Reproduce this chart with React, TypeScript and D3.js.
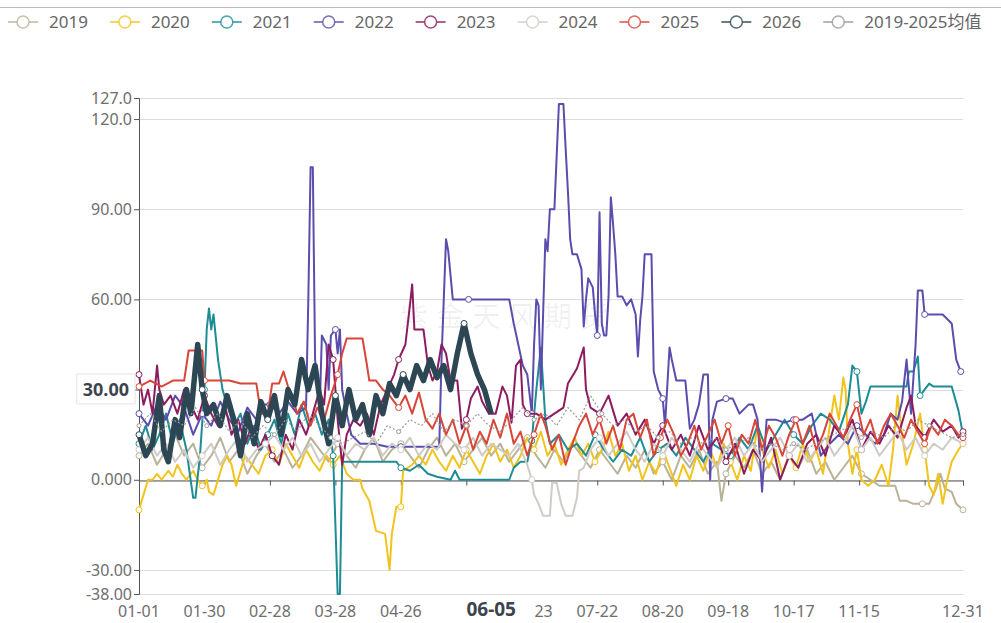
import * as d3 from 'd3';
import { useRef, useEffect } from 'react';

// category axis: every day of 2024 (leap year), labels every 29 days
const xLabels = ['01-01', '01-30', '02-28', '03-28', '04-26', '05-25', '06-23', '07-22', '08-20', '09-18', '10-17', '11-15', '12-14', '12-31'];
const xHiddenLabels = ['05-25', '12-14'];
const yTicks = [127, 120, 90, 60, 30, 0, -30, -38];
const yTickLabels = ['127.0', '120.0', '90.00', '60.00', '30.00', '0.000', '-30.00', '-38.00'];
const pointerX = '06-05';
const pointerY = 30;

const seriesNames = ['2019', '2020', '2021', '2022', '2023', '2024', '2025', '2026', '2019-2025均值'];
const seriesColors = ['#b9b299', '#f2c31b', '#1d8c95', '#5a4dad', '#8c1c5f', '#cfcbc6', '#d94537', '#2c4654', '#9a9a9a'];

// [day of year, value]
const s2019 = [[0,8],[4,12],[8,5],[12,10],[16,15],[20,8],[24,12],[28,4],[32,8],[36,14],[40,6],[44,10],[48,2],[52,8],[56,12],[60,6],[64,10],[68,4],[72,8],[76,14],[80,10],[84,6],[88,12],[92,8],[96,4],[100,10],[104,14],[108,6],[112,10],[116,12],[120,8],[124,4],[128,10],[132,14],[136,8],[140,12],[144,6],[148,10],[152,14],[156,8],[160,12],[164,6],[168,10],[172,14],[176,8],[180,4],[184,10],[188,6],[192,12],[196,8],[200,4],[204,10],[208,6],[212,2],[216,8],[220,4],[224,10],[228,2],[232,6],[236,0],[240,8],[244,4],[248,10],[252,2],[256,6],[258,-7],[260,2],[264,8],[268,4],[272,10],[276,2],[280,6],[284,0],[288,8],[292,4],[296,10],[300,2],[304,6],[308,0],[312,4],[316,8],[320,2],[324,0],[328,-2],[332,-2],[335,-2],[337,-7],[340,-7],[343,-8],[347,-8],[350,-8],[353,-3],[355,2],[357,-3],[360,-4],[362,-8],[365,-10]];
const s2020 = [[0,-10],[2,-5],[4,0],[6,0],[8,2],[10,0],[13,3],[15,1],[17,5],[19,2],[21,0],[24,3],[26,0],[28,-2],[30,0],[31,-4],[33,-5],[35,0],[37,5],[39,8],[41,5],[43,-2],[45,3],[47,8],[50,5],[53,2],[56,8],[59,10],[62,5],[65,12],[68,8],[71,4],[74,10],[77,6],[80,3],[83,8],[86,5],[89,8],[92,2],[95,0],[98,0],[99,-3],[102,-7],[105,-17],[109,-18],[111,-30],[112,-18],[114,-9],[116,-9],[117,3],[121,5],[124,8],[127,5],[130,10],[133,6],[136,3],[139,8],[142,4],[145,10],[148,6],[151,2],[154,8],[157,12],[160,6],[163,10],[166,4],[169,8],[172,14],[175,10],[178,16],[181,8],[184,12],[187,5],[190,10],[193,14],[196,8],[199,12],[202,6],[205,10],[208,16],[211,8],[214,12],[217,3],[220,8],[223,0],[226,6],[229,2],[232,10],[235,4],[238,-2],[241,5],[244,0],[247,8],[250,3],[253,10],[256,4],[259,12],[262,6],[265,0],[268,8],[271,3],[274,18],[276,10],[279,4],[282,10],[285,2],[288,8],[291,4],[294,12],[297,6],[300,10],[303,2],[306,18],[308,28],[310,20],[312,34],[313,30],[314,12],[316,2],[318,10],[320,0],[323,-2],[326,0],[329,5],[332,-2],[334,10],[336,28],[338,15],[340,5],[343,12],[346,22],[348,10],[350,-2],[352,-5],[354,2],[356,-8],[358,0],[360,6],[363,10],[365,12]];
const s2021 = [[0,12],[3,18],[6,10],[9,15],[12,22],[15,12],[18,20],[21,10],[24,-6],[25,-6],[27,8],[29,30],[30,50],[31,57],[32,50],[33,55],[35,40],[37,30],[39,25],[42,18],[45,22],[48,12],[51,18],[54,10],[57,15],[60,20],[63,12],[66,22],[69,15],[72,25],[75,18],[78,22],[81,15],[84,20],[86,8],[88,-38],[89,-38],[90,6],[95,6],[100,6],[105,6],[110,6],[114,6],[116,4],[120,3],[124,5],[128,2],[132,1],[138,0],[140,3],[142,0],[150,0],[156,0],[160,0],[164,0],[166,4],[169,6],[172,6],[174,13],[176,30],[178,44],[180,20],[182,12],[186,15],[190,10],[194,12],[198,8],[202,15],[206,10],[210,6],[214,10],[218,8],[222,14],[226,6],[230,10],[234,12],[238,8],[242,14],[246,10],[250,6],[254,12],[258,10],[262,8],[266,14],[270,10],[274,18],[278,10],[282,15],[286,20],[290,15],[294,12],[298,18],[302,22],[306,20],[310,16],[314,25],[316,38],[318,36],[320,22],[322,26],[324,31],[330,31],[336,31],[340,31],[341,36],[343,36],[345,41],[346,28],[350,32],[352,31],[356,31],[360,31],[363,23],[365,15]];
const s2022 = [[0,22],[4,18],[8,25],[12,20],[16,28],[20,24],[24,15],[28,22],[32,18],[36,26],[40,20],[44,16],[48,24],[52,20],[55,25],[58,25],[62,22],[66,26],[70,22],[74,24],[75,60],[76,104],[77,104],[78,40],[80,22],[81,48],[83,45],[84,30],[85,48],[87,50],[88,42],[89,50],[90,30],[92,22],[94,15],[98,12],[104,12],[110,11],[116,11],[122,11],[128,11],[133,11],[134,40],[136,80],[137,76],[139,60],[142,60],[146,60],[150,60],[155,60],[160,60],[164,60],[166,52],[168,45],[170,38],[172,35],[174,22],[175,45],[176,60],[177,58],[178,30],[179,55],[180,80],[181,76],[182,90],[184,90],[186,125],[188,125],[189,110],[190,96],[191,80],[192,75],[194,75],[196,70],[197,51],[198,60],[199,67],[201,64],[202,55],[203,48],[204,89],[205,52],[206,48],[207,48],[208,61],[209,94],[210,85],[211,75],[212,61],[214,61],[216,58],[218,60],[220,55],[221,41],[222,53],[223,61],[224,75],[226,75],[227,75],[228,36],[230,30],[232,27],[233,18],[235,44],[236,40],[238,33],[240,33],[242,33],[244,17],[246,20],[248,25],[250,35],[252,35],[253,0],[254,20],[256,26],[260,27],[263,27],[266,22],[270,25],[272,25],[274,20],[276,-4],[278,20],[282,20],[286,19],[290,20],[294,20],[298,22],[302,8],[306,12],[310,15],[314,12],[318,18],[322,15],[326,12],[330,15],[333,22],[336,20],[338,26],[340,40],[342,22],[344,45],[345,63],[347,63],[348,55],[352,55],[356,55],[360,52],[362,40],[364,36]];
const s2023 = [[0,35],[2,25],[4,30],[6,22],[8,38],[9,30],[11,25],[14,28],[17,22],[20,30],[23,25],[26,20],[29,28],[32,22],[35,18],[38,25],[41,15],[44,20],[47,12],[50,18],[53,10],[56,15],[59,8],[62,5],[65,15],[68,10],[71,20],[74,15],[77,22],[80,30],[82,25],[84,45],[86,40],[88,20],[90,5],[92,15],[95,20],[98,18],[101,22],[104,15],[107,25],[110,30],[113,35],[115,40],[118,45],[120,58],[121,65],[122,50],[124,50],[126,50],[128,38],[130,33],[132,36],[134,45],[136,42],[138,33],[141,33],[143,17],[145,20],[147,27],[150,31],[152,26],[155,22],[158,22],[161,31],[163,28],[165,19],[167,38],[169,40],[170,25],[172,22],[176,22],[180,20],[184,22],[188,24],[190,32],[194,37],[197,44],[198,30],[200,24],[204,22],[208,28],[212,18],[216,22],[220,15],[224,20],[228,12],[232,18],[236,10],[240,15],[244,8],[248,18],[252,10],[256,14],[260,6],[264,12],[268,2],[272,10],[276,6],[280,14],[284,0],[288,8],[292,4],[296,12],[300,15],[304,8],[308,18],[312,14],[316,20],[320,10],[324,16],[328,12],[332,18],[336,14],[340,24],[342,28],[344,18],[348,14],[352,20],[356,16],[360,18],[363,14],[365,16]];
const s2024 = [[0,10],[4,14],[8,8],[12,12],[16,6],[20,10],[24,4],[28,8],[32,12],[36,5],[40,10],[44,14],[48,6],[52,10],[56,12],[60,15],[64,10],[68,14],[72,8],[76,12],[80,6],[84,10],[88,14],[92,8],[96,12],[100,10],[104,14],[108,8],[112,12],[116,10],[120,14],[124,8],[128,12],[132,10],[136,15],[140,12],[144,10],[148,14],[152,8],[156,12],[160,10],[164,8],[168,12],[172,5],[174,0],[175,-5],[177,-8],[179,-12],[182,-12],[183,-1],[185,-1],[187,-8],[189,-12],[192,-12],[194,-6],[195,3],[197,4],[200,10],[204,14],[208,8],[212,12],[216,16],[220,10],[224,6],[228,12],[232,8],[236,14],[240,10],[244,6],[248,12],[252,8],[256,4],[260,10],[264,14],[268,8],[272,12],[276,6],[280,10],[284,14],[288,8],[292,12],[296,6],[300,10],[304,14],[308,8],[312,12],[316,18],[320,10],[324,14],[328,8],[332,12],[336,16],[340,10],[344,14],[348,8],[352,12],[356,10],[360,14],[365,12]];
const s2025 = [[0,31],[5,33],[10,31],[15,33],[20,33],[22,43],[28,43],[29,33],[35,33],[40,33],[45,32],[50,32],[52,32],[54,22],[57,22],[59,32],[62,32],[64,36],[66,31],[68,28],[70,22],[73,26],[76,18],[79,24],[82,20],[85,28],[88,35],[90,42],[92,47],[96,47],[99,47],[101,38],[102,33],[105,33],[108,30],[111,28],[115,24],[118,28],[121,22],[124,29],[127,20],[130,17],[133,22],[136,15],[139,20],[142,12],[145,18],[148,10],[151,16],[154,12],[157,20],[160,14],[163,22],[166,12],[169,16],[172,8],[175,15],[178,22],[180,18],[183,10],[186,15],[189,5],[192,12],[195,18],[198,22],[201,15],[204,20],[207,12],[210,18],[213,10],[216,20],[219,22],[222,14],[225,20],[228,8],[231,14],[234,20],[237,15],[240,8],[243,12],[246,18],[249,10],[252,15],[255,20],[258,12],[261,18],[264,8],[267,15],[270,12],[273,20],[276,10],[279,18],[282,14],[285,8],[288,15],[291,20],[294,12],[297,18],[300,10],[303,15],[306,22],[309,18],[312,14],[315,20],[318,25],[321,15],[324,20],[327,12],[330,18],[333,22],[336,18],[339,14],[342,20],[345,16],[348,12],[351,18],[354,15],[357,20],[360,18],[363,15],[365,14]];
const s2026 = [[0,15],[3,8],[6,12],[9,28],[11,10],[13,6],[16,20],[18,14],[21,30],[23,22],[26,45],[28,30],[30,22],[33,25],[36,18],[39,28],[42,20],[45,8],[48,22],[51,12],[54,26],[57,20],[60,28],[63,15],[66,30],[69,25],[72,40],[75,30],[78,38],[81,22],[84,12],[87,28],[90,18],[93,30],[96,20],[99,25],[102,15],[105,28],[108,22],[111,32],[114,28],[117,35],[120,30],[123,38],[126,33],[129,40],[132,34],[135,38],[138,30],[141,42],[144,52],[147,42],[150,35],[153,30],[156,22]];
const sAvg = [[0,18],[5,22],[10,16],[15,20],[20,18],[25,24],[30,18],[35,22],[40,16],[45,20],[50,14],[55,18],[60,15],[65,20],[70,16],[75,22],[80,18],[85,14],[90,12],[95,14],[100,16],[105,12],[110,18],[115,16],[120,20],[125,18],[130,22],[135,16],[140,20],[145,18],[150,22],[155,18],[160,16],[165,20],[170,24],[175,20],[180,22],[185,18],[190,24],[195,20],[200,28],[205,22],[210,18],[215,20],[220,16],[225,18],[230,14],[235,16],[240,12],[245,14],[250,12],[255,14],[260,10],[265,12],[270,14],[275,10],[280,12],[285,10],[290,12],[295,10],[300,12],[305,14],[310,16],[315,18],[320,14],[325,16],[330,14],[335,18],[340,16],[345,20],[350,18],[355,16],[360,14],[365,15]];

const seriesData = [s2019, s2020, s2021, s2022, s2023, s2024, s2025, s2026, sAvg];

const FONT = '"Microsoft YaHei", "Noto Sans", "Noto Sans CJK SC", sans-serif';

const App = () => {
  const svgRef = useRef(null);

  useEffect(() => {
    const svg = d3.select(svgRef.current);
    svg.selectAll('*').remove();
    const width = 1001;
    const height = 623;
    const margin = { top: 98, right: 38, bottom: 29, left: 139 };

    const start = new Date(2024, 0, 1);
    const parse = d3.timeParse('%Y-%m-%d');
    const dayOf = (lbl) => d3.timeDay.count(start, parse('2024-' + lbl));

    const x = d3.scaleLinear().domain([0, 365]).range([margin.left, width - margin.right]);
    const y = d3.scaleLinear().domain([-38, 127]).range([height - margin.bottom, margin.top]);

    // top rule
    svg.append('line').attr('x1', 0).attr('x2', width).attr('y1', 7.5).attr('y2', 7.5)
      .attr('stroke', '#bbb').attr('stroke-width', 1);

    // grid
    svg.append('g').selectAll('line').data(yTicks).enter().append('line')
      .attr('x1', x(0)).attr('x2', x(365))
      .attr('y1', d => Math.round(y(d)) + 0.5).attr('y2', d => Math.round(y(d)) + 0.5)
      .attr('stroke', '#dcdcdc').attr('stroke-width', 1);

    // y axis (the label under the pointer box is not drawn twice)
    const yAxis = svg.append('g').attr('transform', `translate(${x(0)},0)`)
      .call(d3.axisLeft(y).tickValues(yTicks).tickSize(5)
        .tickFormat((d, i) => (d === pointerY ? '' : yTickLabels[i])));
    yAxis.select('.domain').attr('stroke', '#555');
    yAxis.selectAll('.tick line').attr('stroke', '#555');
    yAxis.selectAll('text').attr('fill', '#6e6e6e').style('font-size', '16px').style('font-family', FONT).attr('x', -7);

    // x axis on zero
    const tickDays = xLabels.map(dayOf);
    const xAxis = svg.append('g').attr('transform', `translate(0,${Math.round(y(0)) + 0.5})`)
      .call(d3.axisBottom(x).tickValues(tickDays).tickSize(5).tickFormat(() => ''));
    xAxis.select('.domain').attr('stroke', '#555');
    xAxis.selectAll('.tick line').attr('stroke', '#555');

    svg.append('g').selectAll('text').data(xLabels.filter(l => !xHiddenLabels.includes(l))).enter().append('text')
      .attr('x', d => x(dayOf(d)))
      .attr('y', height - 6)
      .attr('text-anchor', 'middle')
      .attr('fill', '#6e6e6e')
      .style('font-size', '16px')
      .style('font-family', FONT)
      .text(d => d);

    // watermark
    svg.append('text').attr('x', 508).attr('y', 327).attr('text-anchor', 'middle')
      .attr('fill', '#000').attr('fill-opacity', 0.06)
      .style('font-size', '28px').style('font-family', FONT).style('letter-spacing', '8px')
      .text('紫金天风期货');

    const line = d3.line().x(d => x(d[0])).y(d => y(d[1]));
    const markerDays = tickDays;

    seriesData.forEach((data, i) => {
      const isAvg = i === 8;
      const isCur = i === 7;
      svg.append('path').datum(data)
        .attr('fill', 'none')
        .attr('stroke', seriesColors[i])
        .attr('stroke-width', isCur ? 5.5 : isAvg ? 1.2 : 2)
        .attr('stroke-dasharray', isAvg ? '2,2' : null)
        .attr('stroke-linejoin', 'round')
        .attr('d', line);

      const marks = markerDays.map(md => {
        let best = null;
        data.forEach(p => { if (Math.abs(p[0] - md) <= 2 && (!best || Math.abs(p[0] - md) < Math.abs(best[0] - md))) best = p; });
        return best;
      }).filter(Boolean);
      svg.append('g').selectAll('circle').data(marks).enter().append('circle')
        .attr('cx', d => x(d[0])).attr('cy', d => y(d[1])).attr('r', isAvg ? 2 : 3)
        .attr('fill', '#fff').attr('stroke', seriesColors[i]).attr('stroke-width', 1);
    });

    // legend
    const legend = svg.append('g').attr('transform', 'translate(0,22)');
    let lx = 8;
    seriesNames.forEach((name, i) => {
      const g = legend.append('g').attr('transform', `translate(${lx},0)`);
      g.append('line').attr('x1', 0).attr('x2', 30).attr('y1', 0).attr('y2', 0)
        .attr('stroke', seriesColors[i]).attr('stroke-width', 2).attr('stroke-opacity', 0.7);
      g.append('circle').attr('cx', 15).attr('cy', 0).attr('r', 6)
        .attr('fill', '#fff').attr('stroke', seriesColors[i]).attr('stroke-width', 1.5).attr('stroke-opacity', 0.8);
      const t = g.append('text').attr('x', 41).attr('y', 0).attr('dy', '0.35em')
        .attr('fill', '#666').style('font-size', '17px').style('font-family', FONT).text(name);
      lx += 41 + t.node().getComputedTextLength() + 22;
    });

    // axis pointer labels
    const px = x(dayOf(pointerX));
    const xl = svg.append('g');
    const xt = xl.append('text').attr('x', px).attr('y', height - 7).attr('text-anchor', 'middle')
      .attr('fill', '#3d4450').style('font-size', '19px').style('font-weight', 'bold').style('font-family', FONT).text(pointerX);
    const xb = xt.node().getBBox();
    const boxTop = Math.round(y(-38)) + 2;
    xl.insert('rect', 'text').attr('x', xb.x - 8).attr('y', boxTop).attr('width', xb.width + 26).attr('height', height - boxTop).attr('fill', '#fff');

    const py = y(pointerY);
    const yl = svg.append('g');
    const yt = yl.append('text').attr('x', x(0) - 10).attr('y', py).attr('dy', '0.35em').attr('text-anchor', 'end')
      .attr('fill', '#3d4450').style('font-size', '18px').style('font-weight', 'bold').style('font-family', FONT).text(d3.format('.2f')(pointerY));
    const yb = yt.node().getBBox();
    yl.insert('rect', 'text').attr('x', yb.x - 6).attr('y', yb.y - 3).attr('width', yb.width + 12).attr('height', yb.height + 6)
      .attr('fill', '#fff').attr('stroke', '#e3e3e3').attr('stroke-width', 1);
  }, []);

  return (
    <div style={{ position: 'fixed', left: 0, top: 0, width: 1001, height: 623, background: '#fff' }}>
      <svg ref={svgRef} width={1001} height={623} style={{ display: 'block' }}></svg>
    </div>
  );
};

export default App;
